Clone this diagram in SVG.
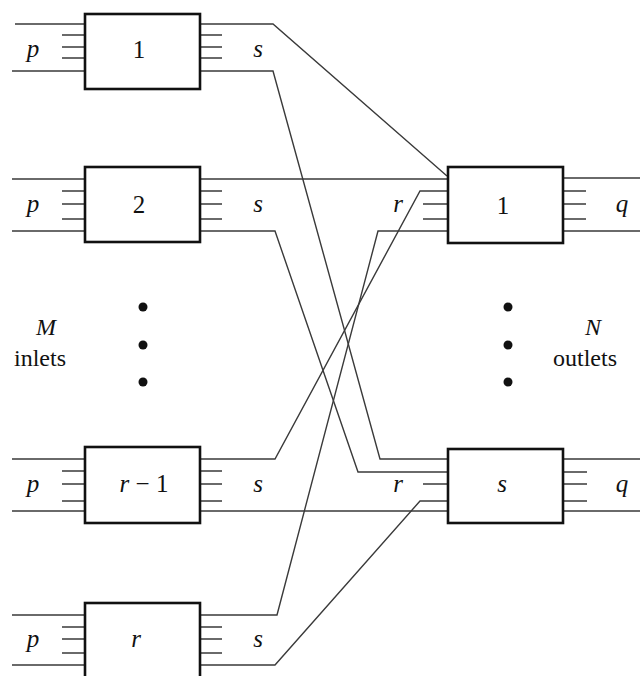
<svg xmlns="http://www.w3.org/2000/svg" width="640" height="676" viewBox="0 0 640 676">
<style>
.box{fill:#fff;stroke:#111;stroke-width:2.6}
.ln{fill:none;stroke:#3a3a3a;stroke-width:1.4}
.st{fill:none;stroke:#3a3a3a;stroke-width:1.4}
.lbl{font-family:'Liberation Serif','Times New Roman',Times,serif;font-size:25px;fill:#111;text-anchor:middle}
.sm{font-size:24px}
.it{font-style:italic}
.dot{fill:#111}
</style>
<rect width="640" height="676" fill="#fff"/>
<g id="connectors">
<path class="ln" d="M15,24 H85 M200,24 H273 L447,176"/>
<path class="ln" d="M12,71 H85 M200,71 H273 L380,459 H448"/>
<path class="ln" d="M12,179 H85 M200,179 H448"/>
<path class="ln" d="M12,231 H85 M200,231 H275 L358,472 H448"/>
<path class="ln" d="M12,459 H85 M200,459 H275 L420,191 H448"/>
<path class="ln" d="M12,511 H85 M200,511 H448"/>
<path class="ln" d="M12,615 H85 M200,615 H277 L378,231 H448"/>
<path class="ln" d="M12,665 H85 M200,665 H275 L420,501 H448"/>
<path class="ln" d="M563,178 H640 M563,231 H640 M563,459 H640 M563,511 H640"/>
</g>
<g id="in1" font-family="Liberation Serif">
<path class="st" d="M62,35 H85 M62,47 H85 M62,58 H85 M200,35 H222 M200,47 H222 M200,58 H222"/>
<rect class="box" x="85" y="14" width="115" height="75"/>
<text class="lbl" x="139" y="58">1</text>
<text class="lbl it" x="33" y="57">p</text>
<text class="lbl it" x="258" y="57">s</text>
</g>
<g id="in2">
<path class="st" d="M62,191 H85 M62,204 H85 M62,219 H85 M200,191 H222 M200,204 H222 M200,219 H222"/>
<rect class="box" x="85" y="167" width="115" height="75"/>
<text class="lbl" x="139" y="213">2</text>
<text class="lbl it" x="33" y="212">p</text>
<text class="lbl it" x="258" y="212">s</text>
</g>
<g id="in_r1">
<path class="st" d="M62,471 H85 M62,484 H85 M62,501 H85 M200,471 H222 M200,484 H222 M200,501 H222"/>
<rect class="box" x="85" y="447" width="115" height="76"/>
<text class="lbl" x="144" y="492"><tspan class="it">r</tspan> − 1</text>
<text class="lbl it" x="33" y="492">p</text>
<text class="lbl it" x="258" y="492">s</text>
</g>
<g id="in_r">
<path class="st" d="M62,627 H85 M62,639 H85 M62,653 H85 M200,627 H222 M200,639 H222 M200,653 H222"/>
<rect class="box" x="85" y="603" width="115" height="76"/>
<text class="lbl it" x="136" y="647">r</text>
<text class="lbl it" x="33" y="647">p</text>
<text class="lbl it" x="258" y="647">s</text>
</g>
<g id="out1">
<path class="st" d="M423,204 H448 M423,219 H448 M563,191 H586 M563,204 H586 M563,219 H586"/>
<rect class="box" x="448" y="167" width="115" height="76"/>
<text class="lbl" x="503" y="214">1</text>
<text class="lbl it" x="398" y="212">r</text>
<text class="lbl it" x="622" y="212">q</text>
</g>
<g id="out_s">
<path class="st" d="M423,484 H448 M563,472 H587 M563,484 H587 M563,501 H587"/>
<rect class="box" x="448" y="449" width="115" height="74"/>
<text class="lbl it" x="502" y="492">s</text>
<text class="lbl it" x="398" y="492">r</text>
<text class="lbl it" x="622" y="492">q</text>
</g>
<g id="inlets">
<circle class="dot" cx="143" cy="307" r="4.5"/>
<circle class="dot" cx="143" cy="345" r="4.5"/>
<circle class="dot" cx="143" cy="382" r="4.5"/>
<text class="lbl it sm" x="46" y="335">M</text>
<text class="lbl sm" x="40" y="366">inlets</text>
</g>
<g id="outlets">
<circle class="dot" cx="508" cy="307" r="4.5"/>
<circle class="dot" cx="508" cy="345" r="4.5"/>
<circle class="dot" cx="508" cy="382" r="4.5"/>
<text class="lbl it sm" x="593" y="335">N</text>
<text class="lbl sm" x="585" y="366">outlets</text>
</g>
</svg>
